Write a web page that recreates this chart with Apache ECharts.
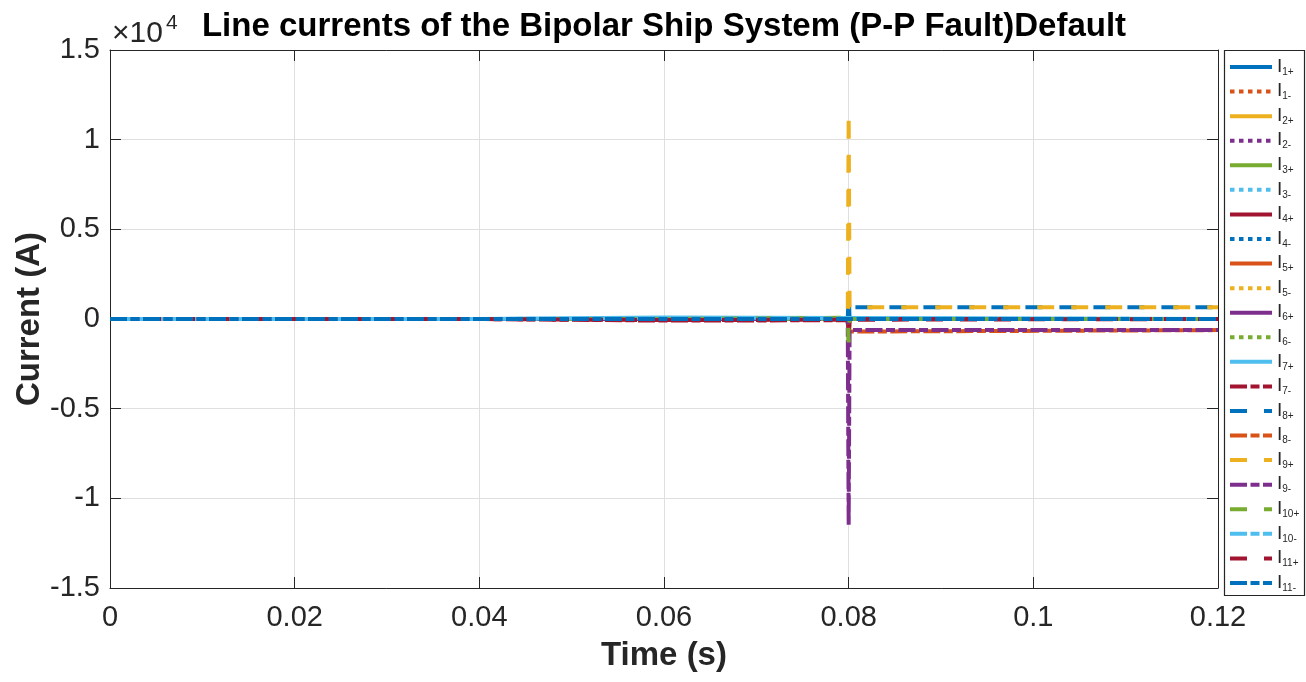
<!DOCTYPE html>
<html>
<head>
<meta charset="utf-8">
<script src="https://cdn.jsdelivr.net/npm/echarts@6/dist/echarts.min.js"></script>
<style>html,body{margin:0;padding:0;background:#fff}#c{width:1306px;height:682px}</style>
</head>
<body>
<div id="c"></div>
<script>
// ---- data ----
const seriesNames = ['I1+','I1-','I2+','I2-','I3+','I3-','I4+','I4-','I5+','I5-','I6+','I6-',
  'I7+','I7-','I8+','I8-','I9+','I9-','I10+','I10-','I11+','I11-'];
const times = [0, 0.0399, 0.04, 0.0599, 0.06, 0.0799, 0.08, 0.0801, 0.12];
const I1p  = [0,0,0,0,0,0,1400,0,0];
const I1m  = [0,0,0,0,0,0,0,0,0];
const I2p  = [0,0,0,0,0,0,0,0,0];
const I2m  = [0,0,0,0,0,0,0,0,0];
const I3p  = [0,0,0,0,0,0,0,0,0];
const I3m  = [0,0,0,0,0,0,0,0,0];
const I4p  = [0,0,0,0,0,0,-1000,0,0];
const I4m  = [0,0,0,0,0,0,0,0,0];
const I5p  = [0,0,0,0,0,0,0,0,0];
const I5m  = [0,0,0,0,0,0,0,0,0];
const I6p  = [0,0,0,0,0,0,0,0,0];
const I6m  = [0,0,0,0,0,0,-1300,0,0];
const I7p  = [0,0,80,80,60,60,0,0,0];
const I7m  = [0,0,-90,-90,-70,-70,-900,0,0];
const I8p  = [0,0,0,0,0,0,1400,660,660];
const I8m  = [0,0,0,0,0,0,-700,-620,-620];
const I9p  = [0,0,0,0,0,0,11500,660,660];
const I9m  = [0,0,0,0,0,0,-11500,-620,-620];
const I10p = [0,0,0,0,70,70,-1300,0,0];
const I10m = [0,0,30,30,30,30,0,0,0];
const I11p = [0,0,-60,-60,-40,-40,0,0,0];
const I11m = [0,0,0,0,0,0,0,0,0];
const seriesValues = [I1p,I1m,I2p,I2m,I3p,I3m,I4p,I4m,I5p,I5m,I6p,I6m,I7p,I7m,I8p,I8m,I9p,I9m,I10p,I10m,I11p,I11m];
const xTicks = [0, 0.02, 0.04, 0.06, 0.08, 0.1, 0.12];
const yTickLabels = ['-1.5','-1','-0.5','0','0.5','1','1.5'];

// ---- styles ----
const palette = ['#0072BD','#D95319','#EDB120','#7E2F8E','#77AC30','#4DBEEE','#A2142F'];
const dotted = [4.5, 4.5];
const dashA = [17, 17];
const dashB = [17, 3.5, 9, 3.5];
function styleFor(i) {
  if (i < 12) return i % 2 === 0 ? 'solid' : dotted;
  if (i === 12) return 'solid';
  return i % 2 === 0 ? dashA : dashB;
}
const axisColor = '#262626';
const gridColor = '#dfdfdf';

const series = seriesNames.map((n, i) => ({
  name: n,
  type: 'line',
  symbol: 'none',
  animation: false,
  xAxisIndex: 0, yAxisIndex: 0,
  data: times.map((t, k) => [t, seriesValues[i][k]]),
  lineStyle: { color: palette[i % 7], width: 4, type: styleFor(i), cap: 'butt' },
  itemStyle: { color: palette[i % 7] },
  emphasis: { disabled: true }
}));

const chart = echarts.init(document.getElementById('c'), null, { renderer: 'canvas' });
const tickLabelStyle = { fontFamily: 'Liberation Sans', fontSize: 29, color: axisColor };
const frameLine = { show: true, onZero: false, lineStyle: { color: axisColor, width: 1 } };
const frameTick = { show: true, inside: true, length: 11, lineStyle: { color: axisColor } };
chart.setOption({
  animation: false,
  backgroundColor: '#fff',
  grid: { left: 110, right: 88, top: 50, bottom: 94 },
  xAxis: [
    { type: 'value', min: 0, max: 0.12, interval: 0.02, position: 'bottom',
      axisLine: frameLine, axisTick: frameTick,
      axisLabel: Object.assign({ margin: 15, formatter: v => {
        const k = xTicks.findIndex(t => Math.abs(t - v) < 1e-9);
        return k >= 0 ? String(xTicks[k]) : '';
      } }, tickLabelStyle),
      splitLine: { show: true, lineStyle: { color: gridColor, width: 1 } } },
    { type: 'value', min: 0, max: 0.12, interval: 0.02, position: 'top',
      axisLine: frameLine, axisTick: frameTick,
      axisLabel: { show: false }, splitLine: { show: false } }
  ],
  yAxis: [
    { type: 'value', min: -15000, max: 15000, interval: 5000, position: 'left',
      axisLine: frameLine, axisTick: frameTick,
      axisLabel: Object.assign({ margin: 10, formatter: v => yTickLabels[Math.round((v + 15000) / 5000)] }, tickLabelStyle),
      splitLine: { show: true, lineStyle: { color: gridColor, width: 1 } } },
    { type: 'value', min: -15000, max: 15000, interval: 5000, position: 'right',
      axisLine: frameLine, axisTick: frameTick,
      axisLabel: { show: false }, splitLine: { show: false } }
  ],
  legend: {
    orient: 'vertical', left: 1228, top: 57, padding: 0,
    itemWidth: 42, itemHeight: 18, itemGap: 4.57,
    selectedMode: false, z: 10,
    lineStyle: { width: 4 },
    itemStyle: { opacity: 0 },
    data: seriesNames,
    formatter: n => '{a|I}{b|' + n.slice(1) + '}',
    textStyle: {
      fontFamily: 'Liberation Sans', color: axisColor,
      rich: {
        a: { fontFamily: 'Liberation Sans', fontSize: 19, lineHeight: 20, verticalAlign: 'top', color: axisColor },
        b: { fontFamily: 'Liberation Sans', fontSize: 10, lineHeight: 11, verticalAlign: 'bottom', padding: [9, 0, 0, 0], color: axisColor }
      }
    }
  },
  graphic: [
    { type: 'rect', z: 1, shape: { x: 1224.5, y: 50.5, width: 80, height: 545 },
      style: { fill: 'none', stroke: axisColor, lineWidth: 1.2 } },
    { type: 'text', x: 664, y: 27, style: { text: 'Line currents of the Bipolar Ship System (P-P Fault)Default',
      font: 'bold 33px "Liberation Sans"', fill: '#000', align: 'center', verticalAlign: 'middle' } },
    { type: 'text', x: 112, y: 34, style: { text: '×10', font: '30px "Liberation Sans"', fill: axisColor,
      align: 'left', verticalAlign: 'middle' } },
    { type: 'text', x: 166, y: 23, style: { text: '4', font: '21px "Liberation Sans"', fill: axisColor,
      align: 'left', verticalAlign: 'middle' } },
    { type: 'text', x: 664, y: 656, style: { text: 'Time (s)', font: 'bold 33px "Liberation Sans"', fill: axisColor,
      align: 'center', verticalAlign: 'middle' } },
    { type: 'text', x: 30, y: 319, rotation: Math.PI / 2, style: { text: 'Current (A)', font: 'bold 33px "Liberation Sans"', fill: axisColor,
      align: 'center', verticalAlign: 'middle' } }
  ],
  series: series
});
</script>
</body>
</html>
